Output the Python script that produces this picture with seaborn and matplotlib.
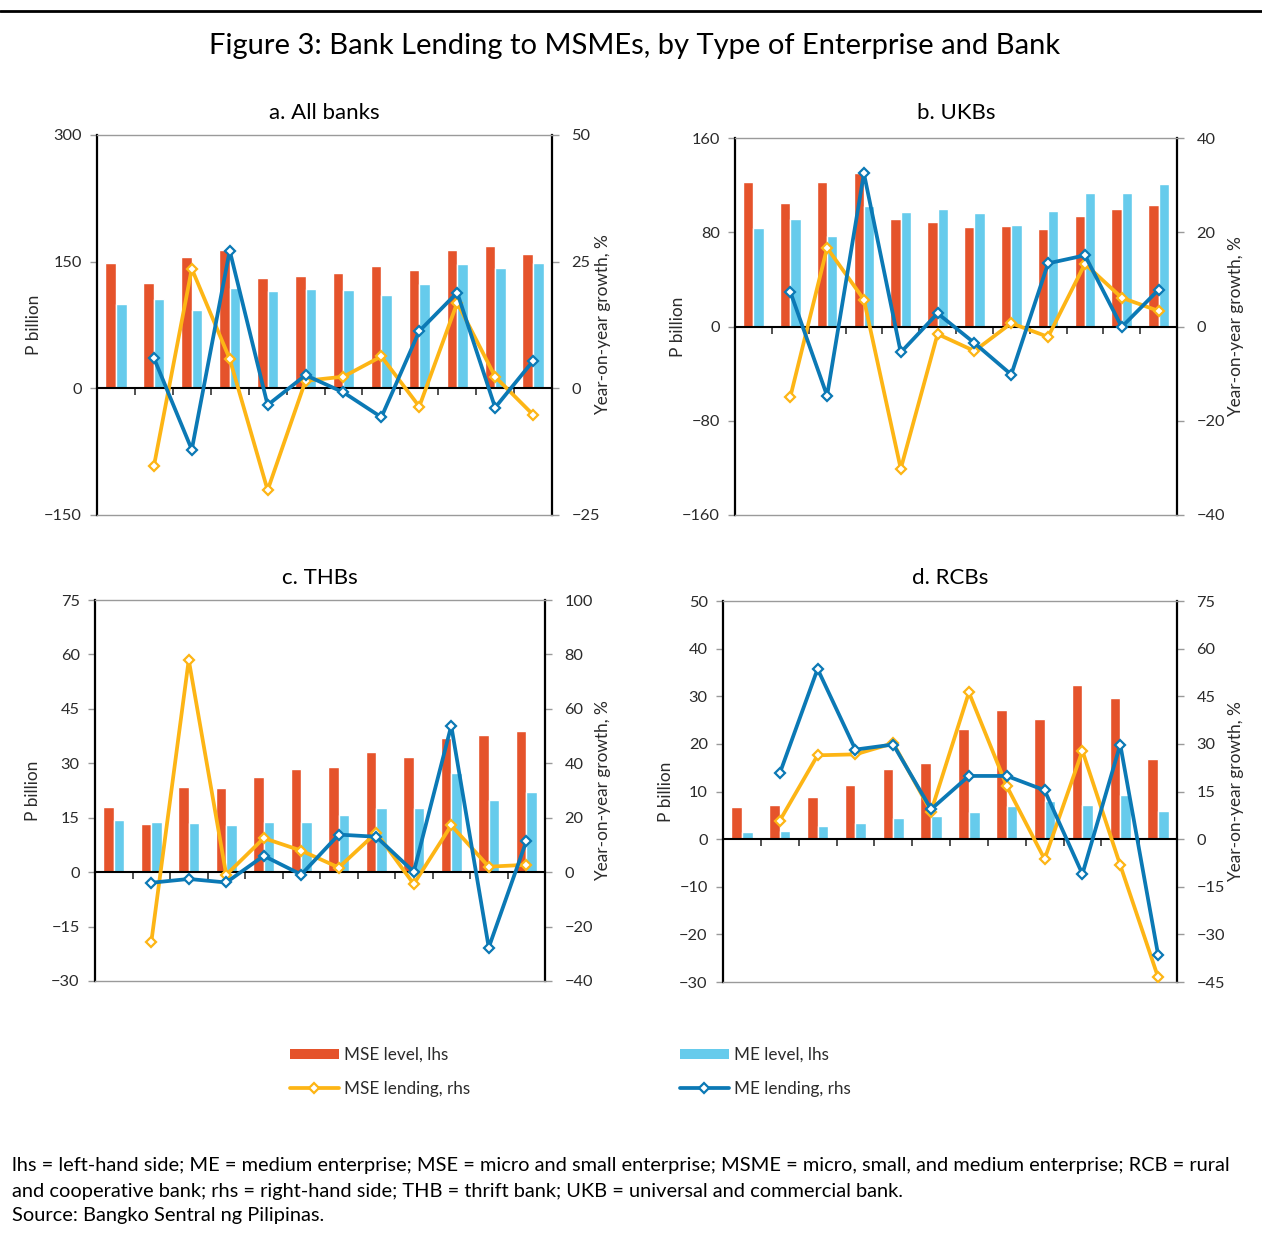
import numpy as np
import pandas as pd
import matplotlib
matplotlib.use("Agg")
import matplotlib.pyplot as plt
import seaborn as sns
from matplotlib.lines import Line2D
from matplotlib.patches import Patch

nan = np.nan

# ---------------- data ----------------
periods = list(range(1, 13))  # 12 unlabeled periods
panel_titles = ["a. All banks", "b. UKBs", "c. THBs", "d. RCBs"]
series_names = ["MSE level, lhs", "ME level, lhs", "MSE lending, rhs", "ME lending, rhs"]

all_mse_level = [148, 125, 155, 164, 131, 133, 136, 145, 140, 164, 168, 159]
all_me_level = [100, 106, 93, 119, 115, 118, 117, 111, 123, 147, 142, 149]
all_mse_growth = [nan, -15.4, 23.6, 5.8, -20.1, 1.5, 2.3, 6.3, -3.6, 16.9, 2.3, -5.2]
all_me_growth = [nan, 6.0, -12.1, 27.2, -3.3, 2.6, -0.8, -5.7, 11.3, 18.9, -3.8, 5.4]

ukb_mse_level = [123, 105, 123, 130, 91, 89, 84.5, 85, 83, 94, 100, 103]
ukb_me_level = [84, 91, 77, 102, 97, 100, 96, 86, 98, 113, 113, 121]
ukb_mse_growth = [nan, -15.0, 16.7, 5.7, -30.2, -1.6, -5.2, 0.7, -2.2, 13.3, 6.1, 3.3]
ukb_me_growth = [nan, 7.4, -14.7, 32.5, -5.5, 2.8, -3.5, -10.2, 13.4, 15.1, -0.1, 7.8]

thb_mse_level = [17.9, 13.2, 23.5, 23.3, 26.3, 28.4, 29.0, 33.2, 31.7, 37.1, 37.9, 38.9]
thb_me_level = [14.4, 13.8, 13.6, 13.0, 13.8, 13.7, 15.7, 17.7, 17.7, 27.3, 19.9, 22.1]
thb_mse_growth = [nan, -25.8, 78.0, -1.0, 12.5, 7.9, 1.7, 14.5, -4.4, 17.2, 2.0, 2.7]
thb_me_growth = [nan, -3.9, -2.5, -3.8, 6.0, -0.9, 13.8, 13.0, 0.1, 53.8, -27.7, 11.3]

rcb_mse_level = [6.7, 7.1, 8.9, 11.3, 14.7, 15.9, 23.2, 27.1, 25.3, 32.4, 29.7, 16.8]
rcb_me_level = [1.5, 1.7, 2.7, 3.4, 4.5, 4.9, 5.8, 7.0, 8.0, 7.2, 9.3, 5.9]
rcb_mse_growth = [nan, 5.8, 26.4, 26.7, 30.2, 8.7, 46.2, 16.7, -6.3, 27.8, -8.2, -43.5]
rcb_me_growth = [nan, 20.7, 53.6, 28.2, 29.8, 9.4, 19.9, 19.9, 15.4, -11.0, 29.8, -36.4]

left_ticks = [
    [-150, 0, 150, 300],
    [-160, -80, 0, 80, 160],
    [-30, -15, 0, 15, 30, 45, 60, 75],
    [-30, -20, -10, 0, 10, 20, 30, 40, 50],
]
right_ticks = [
    [-25, 0, 25, 50],
    [-40, -20, 0, 20, 40],
    [-40, -20, 0, 20, 40, 60, 80, 100],
    [-45, -30, -15, 0, 15, 30, 45, 60, 75],
]

panels = [
    (all_mse_level, all_me_level, all_mse_growth, all_me_growth),
    (ukb_mse_level, ukb_me_level, ukb_mse_growth, ukb_me_growth),
    (thb_mse_level, thb_me_level, thb_mse_growth, thb_me_growth),
    (rcb_mse_level, rcb_me_level, rcb_mse_growth, rcb_me_growth),
]

# ---------------- style ----------------
RED = "#E5532B"
SKY = "#66CBEC"
AMBER = "#FDB515"
BLUE = "#0B79B5"
GREY = "#9A9A9A"
TXT = "#2B2B2B"

sns.set_theme(style="white")
plt.rcParams["font.family"] = ["Lato", "DejaVu Sans"]
plt.rcParams["axes.unicode_minus"] = True

W, H = 1262, 1241
fig = plt.figure(figsize=(W / 100, H / 100), dpi=100)
fig.patch.set_facecolor("white")

# axes rectangles in pixels (x0, y0, x1, y1)
rects = [
    (97, 135, 552, 515),
    (735, 138, 1177, 515),
    (95, 600, 545, 981),
    (723, 601, 1177, 982),
]
left_label_x = [33, 677, 32, 665]
right_label_x = [604, 1237, 604, 1237]


def add_px_axes(x0, y0, x1, y1):
    return fig.add_axes([x0 / W, 1 - y1 / H, (x1 - x0) / W, (y1 - y0) / H])


for i, (rect, data) in enumerate(zip(rects, panels)):
    mse_l, me_l, mse_g, me_g = data
    x0, y0, x1, y1 = rect
    ax = add_px_axes(*rect)
    ax.set_facecolor("none")

    df = pd.DataFrame({
        "period": periods * 2,
        "series": [series_names[0]] * 12 + [series_names[1]] * 12,
        "value": list(mse_l) + list(me_l),
    })
    sns.barplot(data=df, x="period", y="value", hue="series",
                palette=[RED, SKY], saturation=1, width=0.56, gap=0,
                ax=ax, legend=False, errorbar=None, zorder=2)
    ax.set_xlim(-0.5, 11.5)
    ax.set_ylim(left_ticks[i][0], left_ticks[i][-1])
    ax.set_yticks(left_ticks[i])
    ax.set_xlabel("")

    ax2 = ax.twinx()
    ldf = pd.DataFrame({"pos": np.arange(12), "mse": mse_g, "me": me_g})
    for col, colr in (("mse", AMBER), ("me", BLUE)):
        sub = ldf.dropna(subset=[col])
        sns.lineplot(data=sub, x="pos", y=col, ax=ax2, color=colr, lw=2.7,
                     marker="D", markersize=5.5, markerfacecolor="white",
                     markeredgecolor=colr, markeredgewidth=1.6, sort=False,
                     zorder=3)
    ax2.set_xlim(-0.5, 11.5)
    ax2.set_ylim(right_ticks[i][0], right_ticks[i][-1])
    ax2.set_yticks(right_ticks[i])
    ax2.set_xlabel("")

    # spines: left axes -> left spine black, bottom spine at zero
    for s in ("top", "right"):
        ax.spines[s].set_visible(False)
    ax.spines["left"].set_color("black")
    ax.spines["left"].set_linewidth(1.6)
    ax.spines["bottom"].set_position(("data", 0))
    ax.spines["bottom"].set_color("black")
    ax.spines["bottom"].set_linewidth(1.5)
    ax.spines["bottom"].set_zorder(4)
    ax.set_xticks(np.arange(0.5, 11, 1.0))
    ax.tick_params(axis="x", direction="out", length=5, width=1.2,
                   color="#333333", labelbottom=False, bottom=True)
    ax.tick_params(axis="y", direction="out", length=5, width=1,
                   color=GREY, labelcolor=TXT, labelsize=11.8, pad=6, left=True)

    # twin axes -> grey frame top/bottom, black right spine
    ax2.spines["left"].set_visible(False)
    ax2.spines["right"].set_color("black")
    ax2.spines["right"].set_linewidth(1.6)
    for s in ("top", "bottom"):
        ax2.spines[s].set_color(GREY)
        ax2.spines[s].set_linewidth(1.0)
    ax2.tick_params(axis="x", bottom=False, labelbottom=False)
    ax2.tick_params(axis="y", direction="out", length=5, width=1,
                    color=GREY, labelcolor=TXT, labelsize=11.8, pad=9, right=True)

    wpx = x1 - x0
    ax.set_ylabel("P billion", fontsize=12.4, color=TXT)
    ax.yaxis.set_label_coords((left_label_x[i] + 9 - x0) / wpx, 0.5)
    ax2.set_ylabel("Year-on-year growth, %", fontsize=12.4, color=TXT)
    ax2.yaxis.set_label_coords((right_label_x[i] - 9 - x0) / wpx, 0.5)

    title_y = 113 if i < 2 else 578
    ax.text(0.5, 1 + (y0 - title_y) / (y1 - y0), panel_titles[i],
            transform=ax.transAxes, ha="center", va="center",
            fontsize=16, color="black")

# ---------------- legend ----------------
h_mse_bar = Patch(facecolor=RED, edgecolor="none")
h_me_bar = Patch(facecolor=SKY, edgecolor="none")
h_mse_line = Line2D([0], [0], color=AMBER, lw=2.7, marker="D", ms=5.5,
                    mfc="white", mec=AMBER, mew=1.6)
h_me_line = Line2D([0], [0], color=BLUE, lw=2.7, marker="D", ms=5.5,
                   mfc="white", mec=BLUE, mew=1.6)
leg_kw = dict(frameon=False, fontsize=12.3, handlelength=2.85, handleheight=0.6,
              handletextpad=0.3, labelspacing=1.05, borderpad=0,
              borderaxespad=0, loc="center left", labelcolor=TXT)
leg1 = fig.legend([h_mse_bar, h_mse_line], series_names[0::2],
                  bbox_to_anchor=(290 / W, 1 - 1072 / H), **leg_kw)
leg2 = fig.legend([h_me_bar, h_me_line], series_names[1::2],
                  bbox_to_anchor=(680 / W, 1 - 1072 / H), **leg_kw)

# ---------------- title / frame / notes ----------------
fig.add_artist(Line2D([0, 1], [1 - 11 / H, 1 - 11 / H], color="black", lw=2,
                      transform=fig.transFigure))
title = fig.text(635 / W, 1 - 46 / H,
                 "Figure 3: Bank Lending to MSMEs, by Type of Enterprise and Bank",
                 ha="center", va="center", fontsize=18, color="black")

notes = [
    "lhs = left-hand side; ME = medium enterprise; MSE = micro and small enterprise; "
    "MSME = micro, small, and medium enterprise; RCB = rural",
    "and cooperative bank; rhs = right-hand side; THB = thrift bank; UKB = universal and commercial bank.",
    "Source: Bangko Sentral ng Pilipinas.",
]
note_y = [1166, 1191, 1216]
note_texts = [fig.text(12 / W, 1 - y / H, t, ha="left", va="center",
                       fontsize=12.5, color="black") for t, y in zip(notes, note_y)]

# fit text widths to the reference layout
renderer = fig.canvas.get_renderer()
bw = note_texts[0].get_window_extent(renderer).width
fs = 12.5 * 1225 / bw
for t in note_texts:
    t.set_fontsize(fs)
tw = title.get_window_extent(renderer).width
title.set_fontsize(18 * 849 / tw)

fig.savefig("out.png", dpi=100, facecolor="white")
